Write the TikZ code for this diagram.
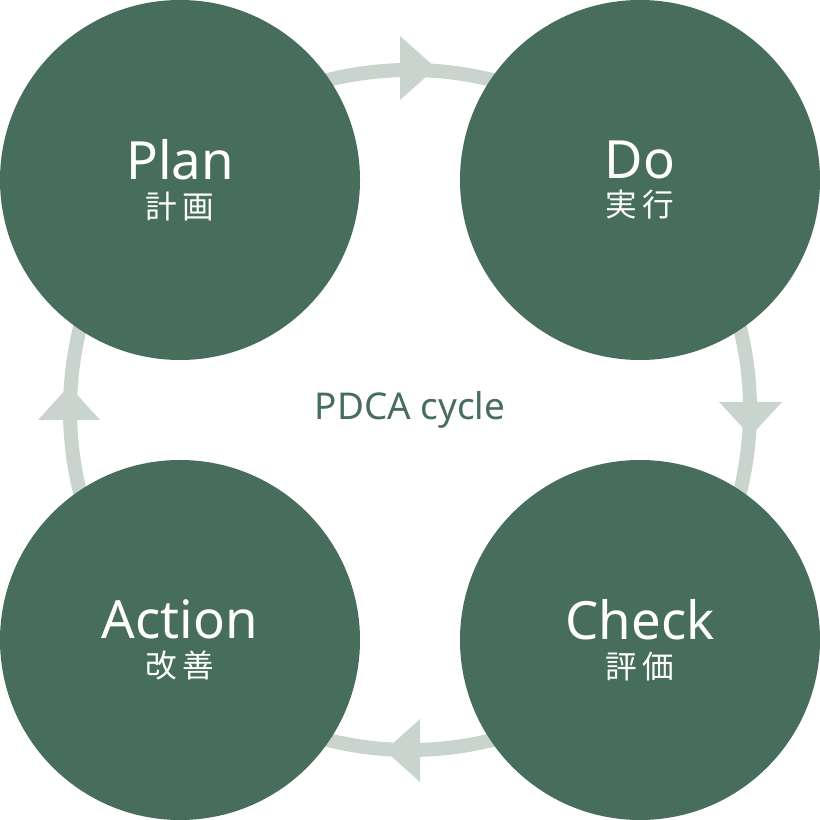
\documentclass[tikz,border=0pt]{standalone}
\usepackage{fontspec}
\setmainfont{Noto Sans}
\newfontfamily\jpfont{Noto Sans CJK JP}
\definecolor{pdcagreen}{HTML}{476D5C}
\definecolor{ringgray}{HTML}{C8D4CD}
\tikzset{
  stage/.style={circle,fill=pdcagreen,minimum size=3.6cm,inner sep=0pt,text=white,align=center},
  ring/.style={draw=ringgray,line width=0.14cm},
  tip/.style={fill=ringgray}
}
\begin{document}
\begin{tikzpicture}
    \useasboundingbox (0,0) rectangle (8.2,8.2);
    % Draw ring
    \draw[ring] (4.1,4.1) circle (3.4);
    % Draw arrow heads
    \fill[tip] (4.0,8.2-0.36) -- (4.36,8.2-0.68) -- (4.0,8.2-1.0) -- cycle;
    \fill[tip] (7.19,8.2-4.02) -- (7.82,8.2-4.02) -- (7.505,8.2-4.36) -- cycle;
    \fill[tip] (4.20,8.2-7.19) -- (3.85,8.2-7.505) -- (4.20,8.2-7.82) -- cycle;
    \fill[tip] (0.38,8.2-4.2) -- (1.0,8.2-4.2) -- (0.69,8.2-3.86) -- cycle;
    % Draw stages
    \node[stage] (plan) at (1.8,6.4) {\fontsize{15}{18}\selectfont\bfseries Plan\\[-1pt]\fontsize{9}{11}\selectfont\jpfont 計\,画};
    \node[stage] (do) at (6.4,6.4) {\fontsize{15}{18}\selectfont\bfseries Do\\[-1pt]\fontsize{9}{11}\selectfont\jpfont 実\,行};
    \node[stage] (check) at (6.4,1.8) {\fontsize{15}{18}\selectfont\bfseries Check\\[-1pt]\fontsize{9}{11}\selectfont\jpfont 評\,価};
    \node[stage] (action) at (1.8,1.8) {\fontsize{15}{18}\selectfont\bfseries Action\\[-1pt]\fontsize{9}{11}\selectfont\jpfont 改\,善};
    % Draw title
    \node[text=pdcagreen,font=\fontsize{10.5}{12}\selectfont] (title) at (4.1,4.1) {PDCA cycle};
\end{tikzpicture}
\end{document}
